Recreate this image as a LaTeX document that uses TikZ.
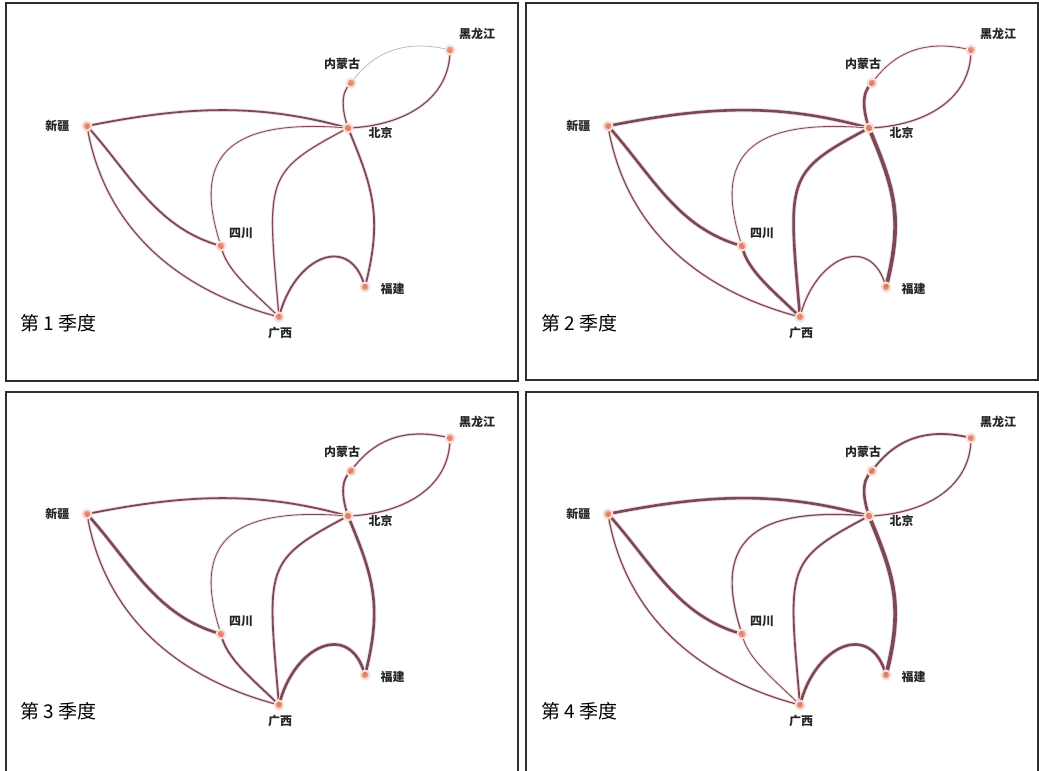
\documentclass[tikz,border=0pt]{standalone}
\usepackage{fontspec}
\usepackage{tikz}
\usetikzlibrary{positioning}
\newfontfamily\cjk{Noto Sans CJK SC}
\definecolor{linkc}{HTML}{7A4858}
\definecolor{glowc}{HTML}{F2DCDC}
\definecolor{faintc}{HTML}{BDB0B4}
\definecolor{dotc}{HTML}{EA8468}
\definecolor{haloc}{HTML}{F9DFD6}
\definecolor{framec}{HTML}{2E2E2E}
\pgfdeclarelayer{paper}
\pgfdeclarelayer{edges}
\pgfsetlayers{paper,edges,main}

\newcommand{\quarternet}[1]{%
  \node[dot] (xj#1) at (87,-126) {};
  \node[dot] (nm#1) at (351,-83) {};
  \node[dot] (hl#1) at (450,-50) {};
  \node[dot] (bj#1) at (348,-128) {};
  \node[dot] (sc#1) at (221,-246) {};
  \node[dot] (gx#1) at (279,-317) {};
  \node[dot] (fj#1) at (365,-287) {};
  \node[city,left=12pt of xj#1] (xjl#1) {新疆};
  \node[city,above=8pt of nm#1,xshift=-9pt] (nml#1) {内蒙古};
  \node[city,above right=6pt and 5pt of hl#1] (hll#1) {黑龙江};
  \node[city,right=15pt of bj#1,yshift=-5pt] (bjl#1) {北京};
  \node[city,above right=3pt and 4pt of sc#1] (scl#1) {四川};
  \node[city,below=4pt of gx#1,xshift=1pt] (gxl#1) {广西};
  \node[city,right=10pt of fj#1,yshift=-2pt] (fjl#1) {福建};
  \begin{pgfonlayer}{edges}
  \draw[link,exb] (xj#1.center) .. controls +(100,20) and +(-90,25) .. (bj#1.center);
  \draw[link,exs] (xj#1.center) .. controls +(45,-50) and +(-65,18) .. (sc#1.center);
  \draw[link,exg] (xj#1.center) .. controls +(15,-90) and +(-115,30) .. (gx#1.center);
  \draw[link,esg] (sc#1.center) .. controls +(5,-25) and +(-25,25) .. (gx#1.center);
  \draw[link,esb] (sc#1.center) .. controls +(-30,90) and +(-120,10) .. (bj#1.center);
  \draw[link,egb] (gx#1.center) .. controls +(-12,140) and +(-85,-45) .. (bj#1.center);
  \draw[link,egf] (gx#1.center) .. controls +(15,60) and +(-15,55) .. (fj#1.center);
  \draw[link,ebf] (bj#1.center) .. controls +(25,-60) and +(18,70) .. (fj#1.center);
  \draw[link,enb] (nm#1.center) .. controls +(-12,-10) and +(-5,15) .. (bj#1.center);
  \draw[link,enh] (nm#1.center) .. controls +(25,35) and +(-40,10) .. (hl#1.center);
  \draw[link,ehb] (hl#1.center) .. controls +(0,-50) and +(55,2) .. (bj#1.center);
  \end{pgfonlayer}
  \node[quarter,anchor=west] (q#1) at (20,-323) {第 #1 季度};
}

\begin{document}
\begin{tikzpicture}[x=1pt,y=1pt,
 dot/.style={circle,fill=dotc,fill opacity=.85,draw=haloc,line width=2pt,
   inner sep=0pt,minimum size=9pt},
 city/.style={inner sep=0pt,font=\cjk\bfseries\fontsize{12}{12}\selectfont,
   text=black!85},
 quarter/.style={inner sep=0pt,font=\cjk\fontsize{19}{19}\selectfont},
 frame/.style={draw=framec,line width=1.4pt},
 glow/.style={draw=glowc,line width=\pgflinewidth+.9pt},
 link/.style={draw=linkc,line cap=round,preaction={glow}},
 w1/.style={line width=.8pt},
 w2/.style={line width=1.2pt},
 w3/.style={line width=1.8pt},
 w4/.style={line width=2.6pt},
 w5/.style={line width=3.7pt}
]
\useasboundingbox (0,0) rectangle (1039,-771);
\begin{pgfonlayer}{paper}
\fill[white] (0,0) rectangle (1039,-771);
\end{pgfonlayer}

\draw[frame] (6,-3) rectangle (518,-381);
\draw[frame] (526,-3) rectangle (1038,-380);
\draw[frame] (6,-392) rectangle (518,-790);
\draw[frame] (526,-392) rectangle (1038,-790);

\begin{scope}[exb/.style=w3,exs/.style=w3,exg/.style=w2,esg/.style=w2,
  esb/.style=w1,egb/.style=w2,egf/.style=w3,ebf/.style=w3,enb/.style=w2,
  enh/.style={line width=.7pt,draw=faintc,glow/.style={draw=none}},ehb/.style=w2]
\quarternet{1}
\end{scope}

\begin{scope}[shift={(521,0)},
  exb/.style=w4,exs/.style=w4,exg/.style=w2,esg/.style=w4,
  esb/.style=w1,egb/.style=w4,egf/.style=w2,ebf/.style=w5,enb/.style=w4,
  enh/.style=w1,ehb/.style=w2]
\quarternet{2}
\end{scope}

\begin{scope}[shift={(0,-388)},
  exb/.style=w3,exs/.style=w4,exg/.style=w2,esg/.style=w3,
  esb/.style=w1,egb/.style=w3,egf/.style=w4,ebf/.style=w4,enb/.style=w3,
  enh/.style=w2,ehb/.style=w2]
\quarternet{3}
\end{scope}

\begin{scope}[shift={(521,-388)},
  exb/.style=w4,exs/.style=w4,exg/.style=w2,esg/.style=w1,
  esb/.style=w2,egb/.style=w3,egf/.style=w4,ebf/.style=w5,enb/.style=w4,
  enh/.style=w3,ehb/.style=w2]
\quarternet{4}
\end{scope}
\end{tikzpicture}
\end{document}
